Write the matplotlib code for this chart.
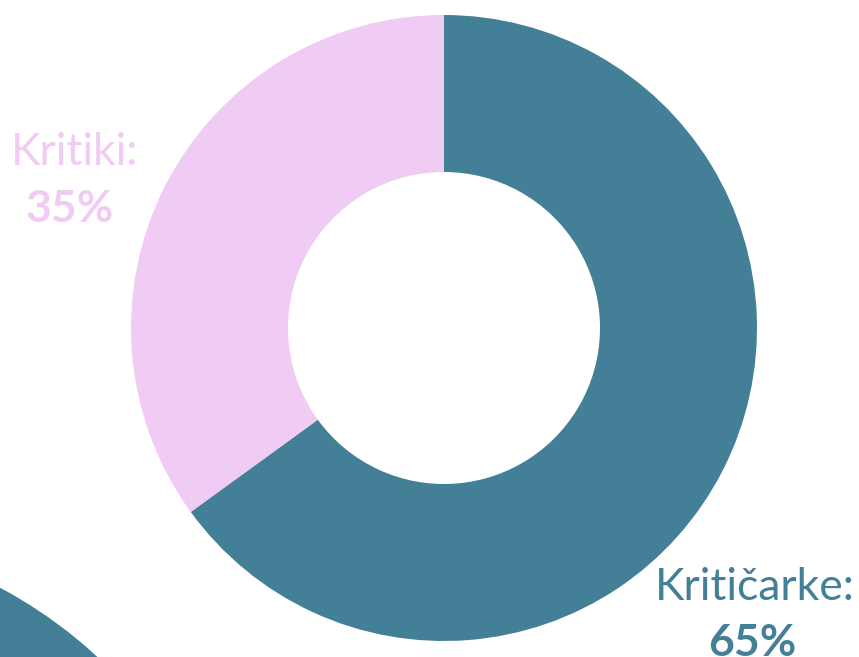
import matplotlib
matplotlib.use("Agg")
import matplotlib.pyplot as plt
from matplotlib.patches import Circle

# data
labels = ["Kritičarke:", "Kritiki:"]
shares = [65, 35]
colors = ["#437F96", "#F0CBF3"]

W, H = 859, 657
fig = plt.figure(figsize=(W / 100, H / 100), dpi=100)
ax = fig.add_axes([0, 0, 1, 1])
ax.set_xlim(0, W)
ax.set_ylim(0, H)
ax.set_aspect("equal")
ax.axis("off")

# decorative circle at the bottom left
ax.add_patch(Circle((-219, H - 999), 466, color=colors[0], lw=0))

ax.pie(shares, colors=colors, startangle=90, counterclock=False,
       center=(444, H - 328), radius=313,
       wedgeprops=dict(width=157, linewidth=0))
ax.set_xlim(0, W)
ax.set_ylim(0, H)

# labels
ax.text(75, H - 165, labels[1], ha="center", va="baseline",
        fontsize=32, family="Lato", color=colors[1])
ax.text(70, H - 222, f"{shares[1]}%", ha="center", va="baseline",
        fontsize=32, family="Lato", weight="bold", color=colors[1])
ax.text(755, H - 600, labels[0], ha="center", va="baseline",
        fontsize=32, family="Lato", color=colors[0])
ax.text(752, H - 656, f"{shares[0]}%", ha="center", va="baseline",
        fontsize=32, family="Lato", weight="bold", color=colors[0])

fig.savefig("out.png", dpi=100)
